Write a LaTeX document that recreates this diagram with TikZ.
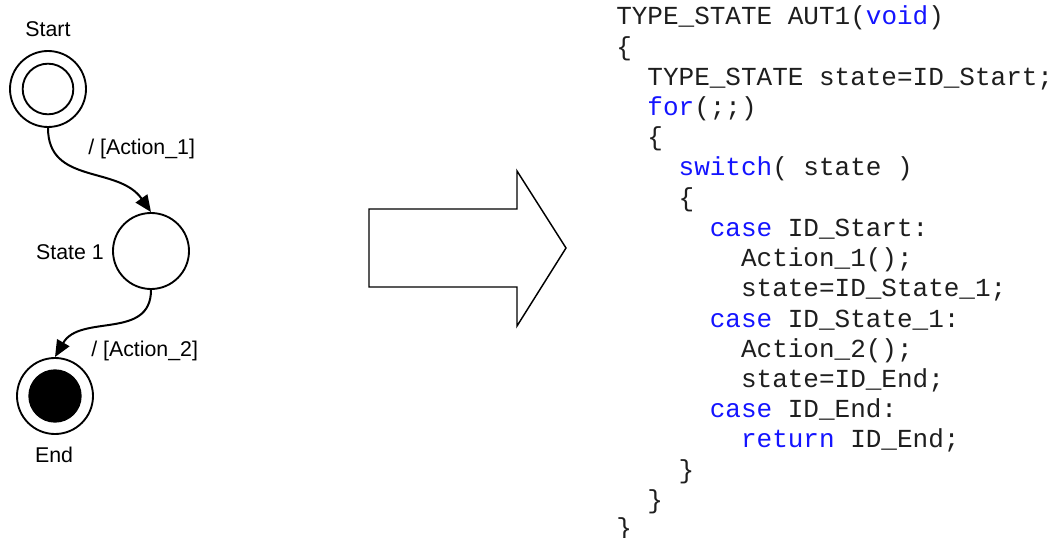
\documentclass[tikz,border=0pt]{standalone}
\usepackage{fontspec}
\setmainfont{Liberation Sans}
\newfontfamily\codefont{Liberation Mono}
\usetikzlibrary{arrows.meta}
\definecolor{kwblue}{RGB}{20,20,255}
\definecolor{codegray}{RGB}{30,30,30}
\tikzset{
  statecirc/.style={draw, circle, line width=1.4pt, inner sep=0pt, minimum size=57pt},
  innercirc/.style={draw, circle, line width=1.4pt, inner sep=0pt, minimum size=38pt},
  endcirc/.style={fill=black, circle, inner sep=0pt, minimum size=40pt},
  lbl/.style={inner sep=0pt, font=\fontsize{16}{19}\selectfont},
  trans/.style={line width=1.5pt, -{Triangle[length=12.5pt,width=10.5pt]}},
  codeline/.style={inner sep=0pt, anchor=base west, text=codegray, font=\codefont\fontsize{19.5}{24}\selectfont},
  bigarrow/.style={draw, line width=1.1pt, line join=miter}
}
\newcommand{\kw}[1]{\textcolor{kwblue}{#1}}
\begin{document}
\begin{tikzpicture}[x=0.75pt,y=-0.75pt]
\useasboundingbox (0,0) rectangle (1060,538);
\fill[white] (0,0) rectangle (1060,538);
% states
\node[statecirc] (start) at (48,89) {};
\node[innercirc] (startin) at (48,89) {};
\node[statecirc] (s1) at (151,251) {};
\node[statecirc] (end) at (55,396) {};
\node[endcirc] (endin) at (55,396) {};
% labels
\node[lbl, anchor=base] (lstart) at (48,37) {Start};
\node[lbl, anchor=base east] (ls1) at (104,260) {State 1};
\node[lbl, anchor=base] (lend) at (54,462) {End};
% transitions
\draw[trans] (start.south) to[out=-90,in=125,looseness=1.1] (s1.north);
\draw[trans] (s1.south) to[out=-90,in=60,looseness=1.1] (end.north);
\node[lbl, anchor=base west] (t1) at (88,155) {/ [Action\_1]};
\node[lbl, anchor=base west] (t2) at (91,356) {/ [Action\_2]};
% big arrow
\draw[bigarrow] (369,209) -- (517,209) -- (517,171) -- (566,248) -- (517,326) -- (517,287) -- (369,287) -- cycle;
% code
\node[codeline] (c1) at (616,25) {TYPE\_STATE AUT1(\kw{void})};
\node[codeline] (c2) at (616,55.2) {\{};
\node[codeline] (c3) at (647.2,85.4) {TYPE\_STATE state=ID\_Start;};
\node[codeline] (c4) at (647.2,115.6) {\kw{for}(;;)};
\node[codeline] (c5) at (647.2,145.8) {\{};
\node[codeline] (c6) at (678.4,176) {\kw{switch}( state )};
\node[codeline] (c7) at (678.4,206.2) {\{};
\node[codeline] (c8) at (709.6,236.4) {\kw{case} ID\_Start:};
\node[codeline] (c9) at (740.8,266.6) {Action\_1();};
\node[codeline] (c10) at (740.8,296.8) {state=ID\_State\_1;};
\node[codeline] (c11) at (709.6,327) {\kw{case} ID\_State\_1:};
\node[codeline] (c12) at (740.8,357.2) {Action\_2();};
\node[codeline] (c13) at (740.8,387.4) {state=ID\_End;};
\node[codeline] (c14) at (709.6,417.6) {\kw{case} ID\_End:};
\node[codeline] (c15) at (740.8,447.8) {\kw{return} ID\_End;};
\node[codeline] (c16) at (678.4,478) {\}};
\node[codeline] (c17) at (647.2,508.2) {\}};
\node[codeline] (c18) at (616,536.5) {\}};
\end{tikzpicture}
\end{document}
